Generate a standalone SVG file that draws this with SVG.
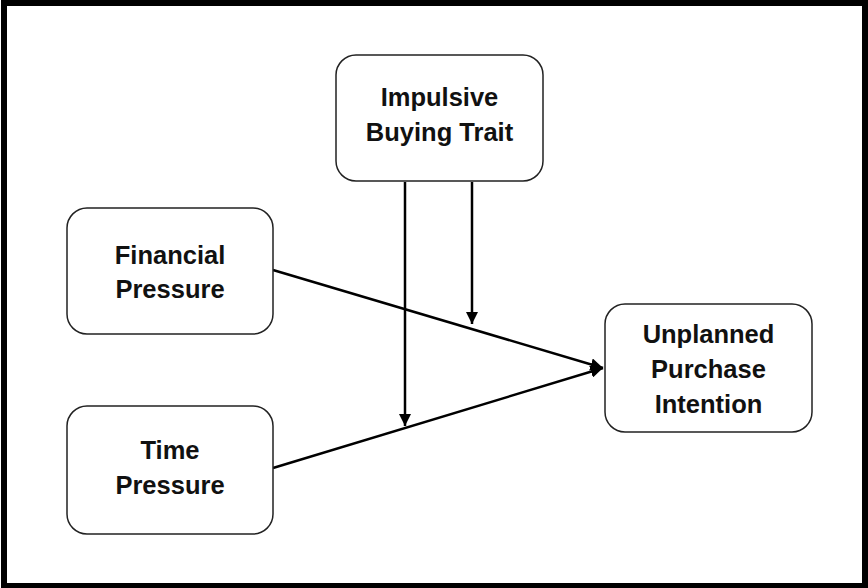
<svg xmlns="http://www.w3.org/2000/svg" width="868" height="588" viewBox="0 0 868 588">
<style>
.box{fill:#fff;stroke:#222;stroke-width:1.5}
.lbl{font-family:"Liberation Sans",Arial,sans-serif;font-weight:bold;font-size:25.5px;fill:#111;text-anchor:middle}
.edge{stroke:#000;stroke-width:2.5;fill:none}
</style>
<defs>
<marker id="arr" viewBox="0 0 10 10" refX="10" refY="5" markerWidth="5" markerHeight="5" orient="auto" markerUnits="strokeWidth">
<path d="M0,0 L10,5 L0,10 z" fill="#000"/>
</marker>
</defs>
<rect x="0" y="0" width="868" height="588" fill="#fff"/>
<rect x="4" y="3" width="861" height="583" fill="none" stroke="#000" stroke-width="6"/>
<g id="connectors">
<line class="edge" x1="273" y1="270" x2="603" y2="368" marker-end="url(#arr)"/>
<line class="edge" x1="273" y1="468" x2="603" y2="368" marker-end="url(#arr)"/>
<line class="edge" x1="405" y1="182" x2="405" y2="426" marker-end="url(#arr)"/>
<line class="edge" x1="472" y1="182" x2="472" y2="324" marker-end="url(#arr)"/>
</g>
<g id="impulsive">
<rect class="box" x="336" y="55" width="207" height="126" rx="20"/>
<text class="lbl" x="439.5" y="106">Impulsive</text>
<text class="lbl" x="439.5" y="141">Buying Trait</text>
</g>
<g id="financial">
<rect class="box" x="67" y="208" width="206" height="126" rx="20"/>
<text class="lbl" x="170" y="264">Financial</text>
<text class="lbl" x="170" y="298">Pressure</text>
</g>
<g id="time">
<rect class="box" x="67" y="406" width="206" height="128" rx="20"/>
<text class="lbl" x="170" y="459">Time</text>
<text class="lbl" x="170" y="494">Pressure</text>
</g>
<g id="unplanned">
<rect class="box" x="605" y="304" width="207" height="128" rx="20"/>
<text class="lbl" x="708.5" y="343">Unplanned</text>
<text class="lbl" x="708.5" y="378">Purchase</text>
<text class="lbl" x="708.5" y="413">Intention</text>
</g>
</svg>
